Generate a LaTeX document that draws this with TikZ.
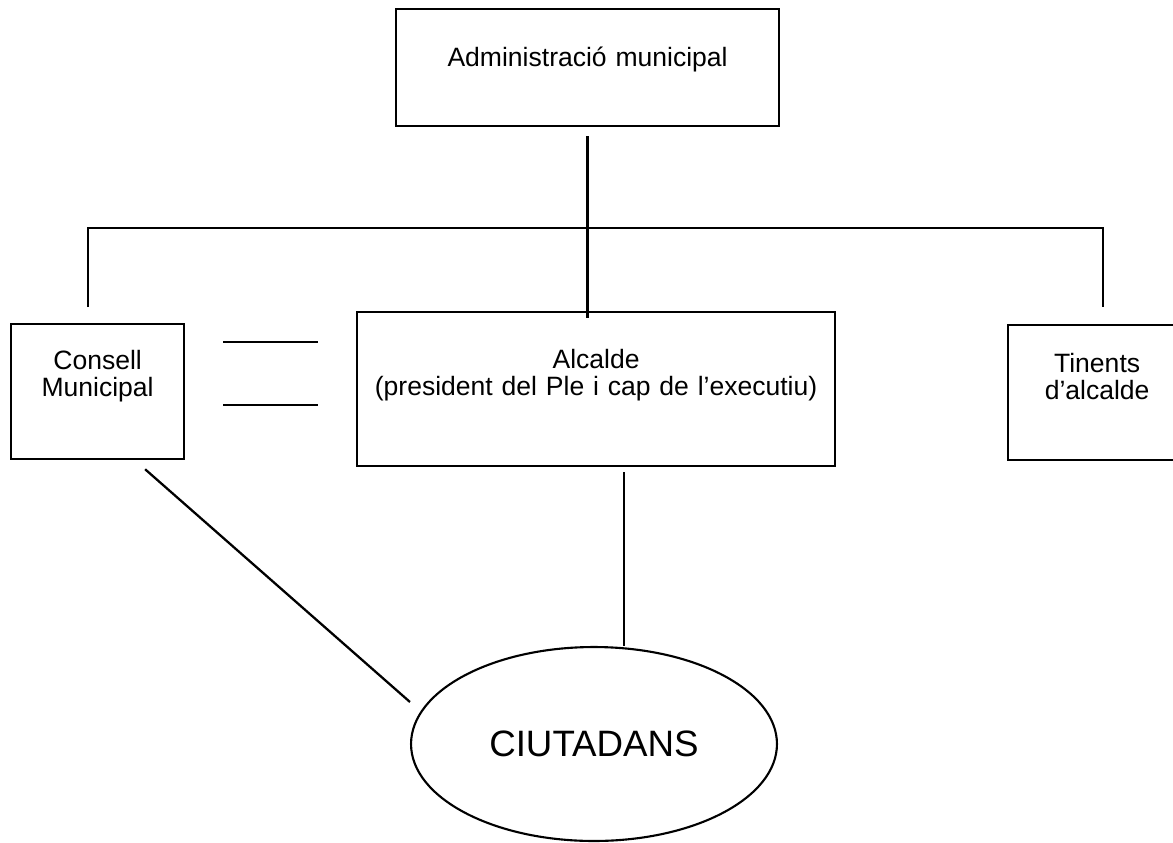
\documentclass[tikz,border=0pt]{standalone}
\usepackage{fontspec}
\setmainfont{Liberation Sans}
\usepackage{tikz}
\usetikzlibrary{shapes.geometric,calc}

\begin{document}
\begin{tikzpicture}[x=0.02cm,y=-0.02cm]
\useasboundingbox (0,0) rectangle (1173,842);
\clip (0,0) rectangle (1173,842);

\tikzset{
  orgbox/.style={draw, line width=1.3pt, anchor=north west, inner sep=0pt,
    align=center, font=\fontsize{15.1}{15.8}\selectfont},
  conn/.style={line width=1.3pt},
}

% boxes
\node[orgbox, text width=7.66cm, text height=1.14cm, text depth=1.2cm] (admin) at (395,8) {Administració municipal};
\node[orgbox, text width=3.46cm, text height=0.9cm, text depth=1.8cm] (cons) at (10,323) {Consell\\Municipal};
\node[orgbox, text width=9.56cm, text height=1.12cm, text depth=1.96cm] (alc) at (356,311) {Alcalde\\(president del Ple i cap de l’executiu)};
\node[orgbox, text width=3.56cm, text height=0.94cm, text depth=1.76cm] (tin) at (1007,324) {Tinents\\d’alcalde};

\node[draw, ellipse, line width=1.2pt, inner sep=0pt, minimum width=7.32cm, minimum height=3.88cm,
  font=\fontsize{20.9}{24}\selectfont] (cit) at (594,744) {CIUTADANS};

% connectors
\coordinate (busL) at (88,228);
\coordinate (busR) at (1103,228);
\coordinate (alcB) at ($(alc.south)+(28,5)$);
\coordinate (consB) at ($(cons.south)+(47.5,9)$);
\draw[conn] ([yshift=-0.18cm]admin.south) -- (admin.south |- alc.north) -- ++(0,7);
\draw[conn] (busL |- 0,307) -- (busL) -- (busR) -- (busR |- 0,307);

\draw[conn] ([xshift=0.76cm]cons.east |- 0,342) -- ([xshift=-0.76cm]alc.west |- 0,342);
\draw[conn] ([xshift=0.76cm]cons.east |- 0,405) -- ([xshift=-0.76cm]alc.west |- 0,405);

\draw[conn] (consB) -- ($(cit.west)+(0,-42)$);
\draw[conn] (alcB) -- (alcB |- cit.north);

\end{tikzpicture}
\end{document}
